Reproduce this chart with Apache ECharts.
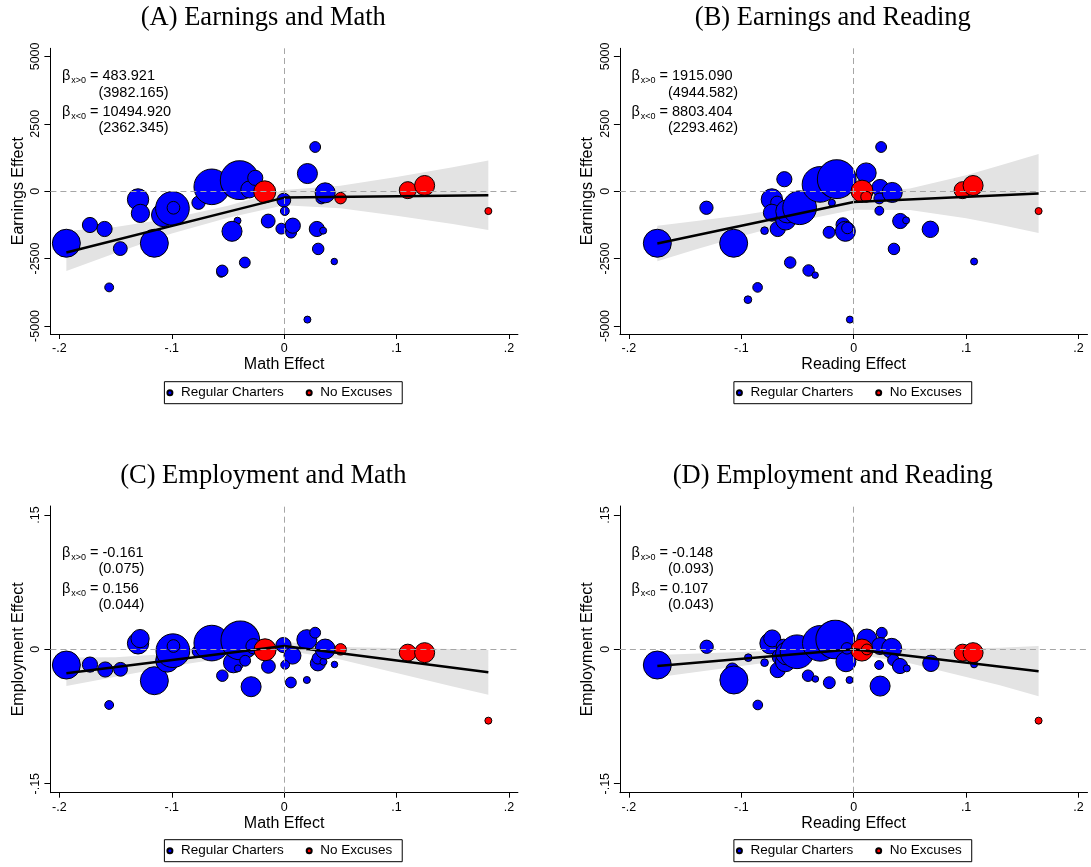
<!DOCTYPE html>
<html>
<head>
<meta charset="utf-8">
<script src="https://cdn.jsdelivr.net/npm/echarts@6/dist/echarts.min.js"></script>
<style>
html,body{margin:0;padding:0;background:#fff;}
#chart{width:1091px;height:867px;}
</style>
</head>
<body>
<div id="chart"></div>
<script>
// ---------- tick labels ----------
const xTicks = [-0.2, -0.1, 0, 0.1, 0.2];
const xTickLabels = ['-.2', '-.1', '0', '.1', '.2'];
const earnTicks = [-5000, -2500, 0, 2500, 5000];
const earnTickLabels = ['-5000', '-2500', '0', '2500', '5000'];
const empTicks = [-0.15, 0, 0.15];
const empTickLabels = ['-.15', '0', '.15'];

// ---------- panel texts ----------
const panelTitles = ['(A) Earnings and Math', '(B) Earnings and Reading', '(C) Employment and Math', '(D) Employment and Reading'];
const xNames = ['Math Effect', 'Reading Effect', 'Math Effect', 'Reading Effect'];
const yNames = ['Earnings Effect', 'Earnings Effect', 'Employment Effect', 'Employment Effect'];
const betaPos = ['483.921', '1915.090', '-0.161', '-0.148'];
const sePos = ['(3982.165)', '(4944.582)', '(0.075)', '(0.093)'];
const betaNeg = ['10494.920', '8803.404', '0.156', '0.107'];
const seNeg = ['(2362.345)', '(2293.462)', '(0.044)', '(0.043)'];

// ---------- data: [x effect, y effect, weight] ----------
const aRegular = [
  [-0.1938, -1933, 16], [-0.1728, -1256, 4.7], [-0.1598, -1404, 4.7], [-0.1557, -3571, 1.6],
  [-0.1458, -2131, 3.9], [-0.1300, -308, 9.3], [-0.1279, -825, 6.8], [-0.1155, -1933, 16],
  [-0.1077, -887, 11.0], [-0.0994, -640, 23.2], [-0.0985, -616, 3.3], [-0.0762, -431, 3.6],
  [-0.0644, 160, 25.9], [-0.0396, 406, 30.6], [-0.0310, 62, 5.9], [-0.0257, 493, 4.7],
  [-0.0415, -1096, 1.0], [-0.0464, -1490, 8.2], [-0.0560, -3030, 1.6], [-0.0551, -2956, 2.7],
  [-0.0350, -2648, 2.4], [-0.0142, -1108, 3.9], [-0.0003, -333, 3.9], [0.0006, -739, 1.6],
  [-0.0025, -1392, 2.4], [0.0062, -1539, 2.4], [0.0077, -1281, 4.7], [0.0207, 653, 8.2],
  [0.0276, 1638, 2.4], [0.0331, -271, 2.4], [0.0365, -62, 8.2], [0.0291, -1404, 4.7],
  [0.0347, -1466, 1.0], [0.0303, -2143, 2.7], [0.0446, -2611, 0.86], [0.0207, -4766, 1.0]
];
const aNoExcuse = [
  [-0.0173, -25, 9.9], [0.0502, -259, 2.7], [0.1100, 37, 5.9], [0.1250, 209, 8.2], [0.1817, -739, 1.0]
];
const bRegular = [
  [-0.1747, -1933, 16], [-0.1310, -616, 3.6], [-0.1068, -1933, 16], [-0.0793, -1466, 1.2],
  [-0.0855, -3571, 1.9], [-0.0941, -4027, 1.2], [-0.0617, 443, 4.7], [-0.0728, -308, 9.3],
  [-0.0682, -419, 3.3], [-0.0728, -800, 5.9], [-0.0676, -1404, 4.7], [-0.0605, -1071, 8.2],
  [-0.0590, -750, 11.0], [-0.0481, -616, 23.2], [-0.0565, -2648, 2.7], [-0.0401, -2943, 2.7],
  [-0.0343, -3116, 0.86], [-0.0300, 250, 25.9], [-0.0151, 443, 30.6], [-0.0194, -431, 1.0],
  [-0.0219, -1527, 2.9], [-0.0096, -1244, 3.9], [-0.0074, -1490, 8.2], [-0.0056, -1367, 2.7],
  [-0.0034, -4766, 1.0], [0.0111, 677, 8.2], [0.0235, 120, 5.9], [0.0244, 1638, 2.4],
  [0.0228, -271, 2.4], [0.0228, -727, 1.6], [0.0343, -49, 8.2], [0.0414, -1108, 4.7],
  [0.0466, -1084, 1.0], [0.0358, -2143, 2.7], [0.0682, -1416, 5.5], [0.1071, -2611, 1.0]
];
const bNoExcuse = [
  [0.0074, 0, 9.9], [0.0111, -209, 2.4], [0.0969, 37, 5.9], [0.1062, 209, 8.2], [0.1645, -739, 1.0]
];
const cRegular = [
  [-0.1938, -0.0175, 16], [-0.1728, -0.0170, 4.7], [-0.1592, -0.0225, 4.7], [-0.1557, -0.0621, 1.6],
  [-0.1456, -0.0223, 3.9], [-0.1300, 0.0067, 9.3], [-0.1282, 0.0120, 6.8], [-0.1155, -0.0350, 16],
  [-0.1040, -0.0125, 11.0], [-0.0990, -0.0015, 23.2], [-0.0985, 0.0037, 3.3], [-0.0762, -0.0020, 3.3],
  [-0.0644, 0.0070, 25.9], [-0.0451, -0.0150, 8.2], [-0.0390, 0.0100, 30.6], [-0.0273, 0.0035, 4.7],
  [-0.0347, -0.0127, 2.4], [-0.0412, -0.0212, 1.0], [-0.0550, -0.0294, 2.7], [-0.0294, -0.0417, 8.2],
  [-0.0140, -0.0190, 3.9], [-0.0006, 0.0048, 4.7], [0.0074, -0.0070, 5.9], [0.0009, -0.0172, 1.6],
  [0.0060, -0.0370, 2.4], [0.0202, 0.0108, 8.2], [0.0276, 0.0186, 2.4], [0.0300, -0.0156, 4.7],
  [0.0300, -0.0100, 2.7], [0.0350, -0.0138, 1.0], [0.0365, 0.0003, 8.2], [0.0448, -0.0169, 0.86],
  [0.0202, -0.0342, 1.0]
];
const cNoExcuse = [
  [-0.0170, -0.0005, 9.9], [0.0502, 0.0000, 2.7], [0.1100, -0.0037, 5.9], [0.1250, -0.0037, 8.2], [0.1817, -0.0796, 1.0]
];
const dRegular = [
  [-0.1747, -0.0175, 16], [-0.1308, 0.0029, 3.6], [-0.1080, -0.0223, 3.3], [-0.1066, -0.0342, 16],
  [-0.0938, -0.0093, 1.2], [-0.0793, -0.0149, 1.2], [-0.0853, -0.0621, 1.9], [-0.0740, 0.0067, 9.3],
  [-0.0725, 0.0122, 5.9], [-0.0676, -0.0231, 4.7], [-0.0622, 0.0029, 4.7], [-0.0650, -0.0082, 5.9],
  [-0.0607, -0.0138, 8.2], [-0.0592, -0.0045, 11.0], [-0.0504, -0.0027, 23.2], [-0.0406, -0.0294, 2.7],
  [-0.0341, -0.0331, 0.86], [-0.0297, 0.0067, 25.9], [-0.0164, 0.0110, 30.6], [-0.0217, -0.0372, 2.9],
  [-0.0069, -0.0138, 8.2], [-0.0060, 0.0011, 2.7], [-0.0037, -0.0342, 1.0], [0.0117, 0.0115, 8.2],
  [0.0250, 0.0185, 2.4], [0.0235, 0.0037, 5.9], [0.0226, -0.0175, 1.6], [0.0338, 0.0011, 8.2],
  [0.0353, -0.0119, 2.7], [0.0412, -0.0186, 4.7], [0.0472, -0.0212, 1.0], [0.0235, -0.0410, 8.2],
  [0.0687, -0.0156, 5.5], [0.1071, -0.0167, 1.0]
];
const dNoExcuse = [
  [0.0073, -0.0008, 9.9], [0.0117, -0.0001, 2.4], [0.0969, -0.0037, 5.9], [0.1062, -0.0037, 8.2], [0.1645, -0.0796, 1.0]
];

// ---------- fitted piecewise-linear lines ----------
const aFitX = [-0.1938, 0, 0.1817];   const aFitY = [-2276, -240, -152];
const bFitX = [-0.1747, 0, 0.1645];   const bFitY = [-1941, -400, -84];
const cFitX = [-0.1938, 0, 0.1817];   const cFitY = [-0.0266, 0.0037, -0.0256];
const dFitX = [-0.1747, 0, 0.1645];   const dFitY = [-0.0187, 0.0, -0.0244];

// ---------- confidence bands ----------
const aBandX  = [-0.1938, -0.15, -0.10, -0.05, 0, 0.05, 0.10, 0.15, 0.1817];
const aBandLo = [-2960, -2294, -1570, -985, -520, -636, -912, -1217, -1442];
const aBandHi = [-1480, -1334, -1010, -545, 40, 204, 528, 883, 1138];
const bBandX  = [-0.1747, -0.14, -0.10, -0.05, 0, 0.05, 0.10, 0.13, 0.1645];
const bBandLo = [-2601, -2152, -1670, -1120, -690, -704, -1009, -1251, -1549];
const bBandHi = [-1281, -1112, -890, -560, -110, 96, 591, 949, 1381];
const cBandX  = [-0.1938, -0.15, -0.10, -0.05, 0, 0.05, 0.10, 0.15, 0.1817];
const cBandLo = [-0.0410, -0.0307, -0.0189, -0.0091, -0.0011, -0.0114, -0.0264, -0.0415, -0.0506];
const cBandHi = [-0.0090, -0.0087, -0.0049, 0.0009, 0.0085, 0.0026, 0.0016, 0.0005, -0.0006];
const dBandX  = [-0.1747, -0.12, -0.08, -0.04, 0, 0.05, 0.10, 0.13, 0.1645];
const dBandLo = [-0.0312, -0.0218, -0.0151, -0.0093, -0.0050, -0.0154, -0.0308, -0.0402, -0.0524];
const dBandHi = [-0.0062, -0.0038, -0.0021, 0.0007, 0.0050, 0.0006, 0.0012, 0.0018, 0.0036];

// ---------- layout / style ----------
const SANS = '"Liberation Sans", Arial, Helvetica, sans-serif';
const SERIF = '"Liberation Serif", "Times New Roman", serif';
const BLUE = '#0000ff', RED = '#ff0000', BAND = '#e3e3e3';
const grids = [
  {left: 50.4, top: 48.3, width: 467.5, height: 285.7},
  {left: 619.9, top: 48.3, width: 467.6, height: 285.7},
  {left: 50.4, top: 506, width: 467.5, height: 286.7},
  {left: 619.9, top: 506, width: 467.6, height: 286.7}
];
const titleX = [263.3, 832.8, 263.3, 832.8];
const titleY = [18, 18, 476, 476];
const annoRows = [[75.7, 93.3, 111.7, 128.3], [75.7, 93.3, 111.7, 128.3], [553.3, 569, 589, 605], [553.3, 569, 589, 605]];
const legendPos = [[164.4, 381.7], [733.9, 381.7], [164.4, 839.7], [733.9, 839.7]];

const panels = [
  {reg: aRegular, nx: aNoExcuse, fx: aFitX, fy: aFitY, bx: aBandX, lo: aBandLo, hi: aBandHi, yr: 5300, yt: earnTicks, yl: earnTickLabels},
  {reg: bRegular, nx: bNoExcuse, fx: bFitX, fy: bFitY, bx: bBandX, lo: bBandLo, hi: bBandHi, yr: 5300, yt: earnTicks, yl: earnTickLabels},
  {reg: cRegular, nx: cNoExcuse, fx: cFitX, fy: cFitY, bx: cBandX, lo: cBandLo, hi: cBandHi, yr: 0.16, yt: empTicks, yl: empTickLabels},
  {reg: dRegular, nx: dNoExcuse, fx: dFitX, fy: dFitY, bx: dBandX, lo: dBandLo, hi: dBandHi, yr: 0.16, yt: empTicks, yl: empTickLabels}
];

function labelFor(ticks, labels) {
  return function (v) {
    for (let i = 0; i < ticks.length; i++) if (Math.abs(ticks[i] - v) < 1e-9 * Math.max(1, Math.abs(v)) + 1e-9) return labels[i];
    return '';
  };
}

const xAxes = [], yAxes = [], series = [], legends = [], graphics = [];
panels.forEach((p, i) => {
  xAxes.push({
    type: 'value', gridIndex: i, min: -0.208, max: 0.208,
    name: xNames[i], nameLocation: 'middle', nameGap: 23,
    nameTextStyle: {fontSize: 16, color: '#000', fontFamily: SANS},
    axisLine: {show: true, onZero: false, lineStyle: {color: '#000', width: 1}},
    axisTick: {show: true, length: 5, customValues: xTicks, lineStyle: {color: '#000', width: 1}},
    axisLabel: {show: true, customValues: xTicks, formatter: labelFor(xTicks, xTickLabels),
      fontSize: 12.5, color: '#000', fontFamily: SANS, margin: 8},
    splitLine: {show: false}
  });
  yAxes.push({
    type: 'value', gridIndex: i, min: -p.yr, max: p.yr,
    name: yNames[i], nameLocation: 'middle', nameGap: 24,
    nameTextStyle: {fontSize: 16, color: '#000', fontFamily: SANS},
    axisLine: {show: true, onZero: false, lineStyle: {color: '#000', width: 1}},
    axisTick: {show: true, length: 6, customValues: p.yt, lineStyle: {color: '#000', width: 1}},
    axisLabel: {show: true, customValues: p.yt, formatter: labelFor(p.yt, p.yl), rotate: 90,
      fontSize: 12.5, color: '#000', fontFamily: SANS, margin: 8},
    splitLine: {show: false}
  });
  // reference dashed lines at zero
  series.push({
    type: 'line', xAxisIndex: i, yAxisIndex: i, data: [], z: 1, silent: true,
    markLine: {silent: true, symbol: 'none', label: {show: false}, animation: false,
      lineStyle: {color: '#a6a6a6', type: [6, 4], width: 1},
      data: [{xAxis: 0}, {yAxis: 0}]}
  });
  // confidence band
  const bx = p.bx, lo = p.lo, hi = p.hi;
  series.push({
    type: 'custom', xAxisIndex: i, yAxisIndex: i, z: 2, silent: true, clip: true,
    data: bx.map((x, k) => [x, lo[k], hi[k]]),
    encode: {x: 0, y: [1, 2]},
    renderItem: function (params, api) {
      if (params.dataIndex !== 0) return null;
      const pts = [];
      for (let k = 0; k < bx.length; k++) pts.push(api.coord([bx[k], hi[k]]));
      for (let k = bx.length - 1; k >= 0; k--) pts.push(api.coord([bx[k], lo[k]]));
      return {type: 'polygon', shape: {points: pts}, style: {fill: BAND, stroke: null}};
    }
  });
  const sym = v => 7 * Math.sqrt(v[2]);
  series.push({
    type: 'scatter', name: 'Regular Charters', xAxisIndex: i, yAxisIndex: i, z: 3,
    data: p.reg, symbol: 'circle', symbolSize: sym,
    itemStyle: {color: BLUE, borderColor: '#000', borderWidth: 1, opacity: 1},
    emphasis: {disabled: true}
  });
  series.push({
    type: 'scatter', name: 'No Excuses', xAxisIndex: i, yAxisIndex: i, z: 3,
    data: p.nx, symbol: 'circle', symbolSize: sym,
    itemStyle: {color: RED, borderColor: '#000', borderWidth: 1, opacity: 1},
    emphasis: {disabled: true}
  });
  series.push({
    type: 'line', xAxisIndex: i, yAxisIndex: i, z: 4, silent: true,
    data: p.fx.map((x, k) => [x, p.fy[k]]), symbol: 'none',
    lineStyle: {color: '#000', width: 2.5}
  });
  legends.push({
    left: legendPos[i][0], top: legendPos[i][1], orient: 'horizontal',
    data: ['Regular Charters', 'No Excuses'], selectedMode: false,
    icon: 'circle', itemWidth: 12, itemHeight: 5, itemGap: 22,
    padding: [4, 10, 4, 2], borderColor: '#000', borderWidth: 1,
    textStyle: {fontSize: 13.5, color: '#000', fontFamily: SANS}
  });
  // title
  graphics.push({type: 'text', x: titleX[i], y: titleY[i], silent: true,
    style: {text: panelTitles[i], fill: '#000', font: '26.5px ' + SERIF, align: 'center', verticalAlign: 'middle'}});
  // coefficient annotations
  const bxPos = grids[i].left + 11.5, pxPos = grids[i].left + 48;
  const rich = {
    b: {fontSize: 14.5, fontFamily: SANS, fill: '#000', lineHeight: 18},
    s: {fontSize: 9, fontFamily: SANS, fill: '#000', lineHeight: 7, verticalAlign: 'bottom', padding: [0, 0, 0, 1]},
    t: {fontSize: 14.5, fontFamily: SANS, fill: '#000', lineHeight: 18}
  };
  const rows = annoRows[i];
  graphics.push({type: 'text', x: bxPos, y: rows[0], silent: true,
    style: {text: '{b|β}{s|x>0}{t| = ' + betaPos[i] + '}', rich: rich, verticalAlign: 'middle', align: 'left'}});
  graphics.push({type: 'text', x: pxPos, y: rows[1], silent: true,
    style: {text: sePos[i], fill: '#000', font: '14.5px ' + SANS, verticalAlign: 'middle', align: 'left'}});
  graphics.push({type: 'text', x: bxPos, y: rows[2], silent: true,
    style: {text: '{b|β}{s|x<0}{t| = ' + betaNeg[i] + '}', rich: rich, verticalAlign: 'middle', align: 'left'}});
  graphics.push({type: 'text', x: pxPos, y: rows[3], silent: true,
    style: {text: seNeg[i], fill: '#000', font: '14.5px ' + SANS, verticalAlign: 'middle', align: 'left'}});
});

const chart = echarts.init(document.getElementById('chart'), null, {renderer: 'canvas'});
chart.setOption({
  animation: false,
  backgroundColor: '#fff',
  grid: grids,
  xAxis: xAxes,
  yAxis: yAxes,
  legend: legends,
  series: series,
  graphic: graphics
});
</script>
</body>
</html>
